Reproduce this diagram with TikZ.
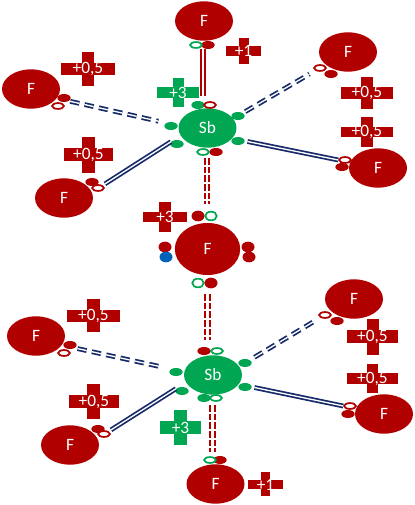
\documentclass[tikz,border=0pt]{standalone}
\usepackage{fontspec}
\setmainfont{Carlito}
\usepackage{tikz}
\usetikzlibrary{shapes.geometric}
\definecolor{fred}{RGB}{176,0,0}
\definecolor{sbgreen}{RGB}{0,166,81}
\definecolor{bondnavy}{RGB}{22,42,104}
\definecolor{pairblue}{RGB}{0,98,184}
\tikzset{
  fatom/.style={ellipse,fill=fred,text=white,inner sep=0pt,minimum width=43.5pt,minimum height=29.5pt,font=\fontsize{13}{13}\selectfont},
  sbatom/.style={fatom,fill=sbgreen},
  fdot/.style={ellipse,fill=fred,inner sep=0pt,minimum width=10pt,minimum height=6pt},
  gdot/.style={fdot,fill=sbgreen},
  fring/.style={ellipse,draw=fred,fill=white,line width=1.3pt,inner sep=0pt,minimum width=8.8pt,minimum height=4.4pt},
  gring/.style={fring,draw=sbgreen},
  bigdot/.style={minimum width=9.75pt,minimum height=8pt},
  navysolid/.style={draw=bondnavy,double=white,double distance=1pt,line width=1.3pt},
  navydash/.style={navysolid,dash pattern=on 7pt off 4pt},
  redsolid/.style={draw=fred,double=white,double distance=2.2pt,line width=1.5pt},
  reddash/.style={redsolid,dash pattern=on 5pt off 1.5pt},
  chargetext/.style={text=white,inner sep=0pt,font=\fontsize{13}{13}\selectfont}
}
\begin{document}
\begin{tikzpicture}[x=0.75pt,y=-0.75pt]
    \useasboundingbox (0,0) rectangle (414,505);

    % charge crosses
    \foreach \n/\xa/\xb/\ya/\yb/\ua/\ub/\va/\vb/\col/\lab in {
        a/61/115/63/75/82/94/52/86/fred/{+0,5},
        b/64/113/148/161/82/95/137/173/fred/{+0,5},
        c/157/199/87/98/173/184/78/107/sbgreen/{+3},
        d/226/261/46/56/239/249/38/64/fred/{+1},
        e/341/393/87/99/361/373/77/109/fred/{+0,5},
        f/341/393/127/137/361/373/117/147/fred/{+0,5},
        g/143/187/212/222/159/171/202/232/fred/{+3},
        h/67/120/310/322/87/100/299/332/fred/{+0,5},
        i/69/119/395/408/87/100/384/419/fred/{+0,5},
        j/160/201/421/434/174/187/410/445/sbgreen/{+3},
        k/347/398/330/343/367/379/319/355/fred/{+0,5},
        l/347/398/373/384/367/378/364/393/fred/{+0,5},
        m/248/283/480/489/261/270/472/496/fred/{+1}} {
      \fill[\col] (\xa,\ya) rectangle (\xb,\yb);
      \fill[\col] (\ua,\va) rectangle (\ub,\vb);
      \node[chargetext] (q\n) at ({(\xa+\xb)/2},{(\ya+\yb)/2}) {\lab};
    }

    % atoms
    \node[fatom] (ftop) at (204,21) {F};
    \node[fatom] (ful) at (31,89) {F};
    \node[fatom] (fll) at (64,198) {F};
    \node[fatom] (fur) at (348,52) {F};
    \node[fatom] (flr) at (378,168) {F};
    \node[sbatom] (sba) at (207.5,128) {Sb};
    \node[fatom,minimum width=49pt,minimum height=39pt] (fmid) at (207.5,249) {F};
    \node[fatom] (fuL) at (36,336) {F};
    \node[fatom] (flL) at (70,445) {F};
    \node[fatom] (fuR) at (354,299) {F};
    \node[fatom] (flR) at (384,414) {F};
    \node[sbatom] (sbb) at (213,375) {Sb};
    \node[fatom] (fbot) at (215.5,484) {F};

    % electron pairs
    \foreach \n/\x/\y in {a1/198/105,a2/171/126,a3/177/144,a4/238/116,a5/238/141,
                          b1/176/372,b2/182/391,b3/245/363,b4/245/387,b5/204/398}
      \node[gdot] (g\n) at (\x,\y) {};
    \foreach \n/\x/\y in {a/208/45,b/64/98,c/92/182,d/331/74,e/342/167,f/216/152,
                          g/204/351,h/70/345,i/98/429,j/337/321,k/348/414,l/220/460}
      \node[fdot] (d\n) at (\x,\y) {};
    \foreach \n/\x/\y in {a/210/105,b/58/106,c/98/188,d/320/68,e/345/160,
                          h/64/353,i/104/434,j/325/315,k/350/406}
      \node[fring] (r\n) at (\x,\y) {};
    \foreach \n/\x/\y in {a/196/45,b/203/152,c/217/351,d/216/398,e/210/460}
      \node[gring] (s\n) at (\x,\y) {};
    \node[fdot,bigdot] (ma) at (198,216) {};
    \node[gring,bigdot,minimum width=8.6pt,minimum height=6.5pt] (mb) at (211,216) {};
    \node[fdot,bigdot] (mc) at (165,247) {};
    \node[fdot,bigdot,fill=pairblue] (md) at (166,257) {};
    \node[fdot,bigdot] (me) at (248,247) {};
    \node[fdot,bigdot] (mf) at (249,257) {};
    \node[gring,bigdot,minimum width=8.6pt,minimum height=6.5pt] (mg) at (198,283) {};
    \node[fdot,bigdot] (mh) at (211,283) {};

    % free ends of the vertical bonds
    \coordinate (va) at (203,49);
    \coordinate (vb) at (207,158);
    \coordinate (vc) at (207.5,294);
    \coordinate (vd) at (212.5,405);

    % bonds
    \draw[navydash,shorten <=1pt,shorten >=6pt] (db.south east) -- (ga2.north west);
    \draw[navysolid,shorten <=2pt,shorten >=1pt] (rc.north east) -- (ga3.north west);
    \draw[navydash,shorten <=2pt,shorten >=5pt] (ga4.north east) -- (rd.south west);
    \draw[navysolid,shorten <=2pt,shorten >=0pt] (ga5.east) -- (re.west);
    \draw[navydash,shorten <=2pt,shorten >=7pt] (dh.south east) -- (gb1.north west);
    \draw[navysolid,shorten <=2pt,shorten >=1pt] (ri.north east) -- (gb2.north west);
    \draw[navydash,shorten <=4pt,shorten >=4pt] (gb3.north east) -- (rj.south west);
    \draw[navysolid,shorten <=2pt,shorten >=0pt] (gb4.east) -- (rk.west);
    \draw[redsolid,shorten >=4pt] (va) -- (va |- ra.north);
    \draw[reddash,shorten >=5pt] (vb) -- (vb |- mb.north);
    \draw[reddash,shorten >=5pt] (vc) -- (vc |- dg.north);
    \draw[reddash,shorten >=3pt] (vd) -- (vd |- se.north);
\end{tikzpicture}
\end{document}
